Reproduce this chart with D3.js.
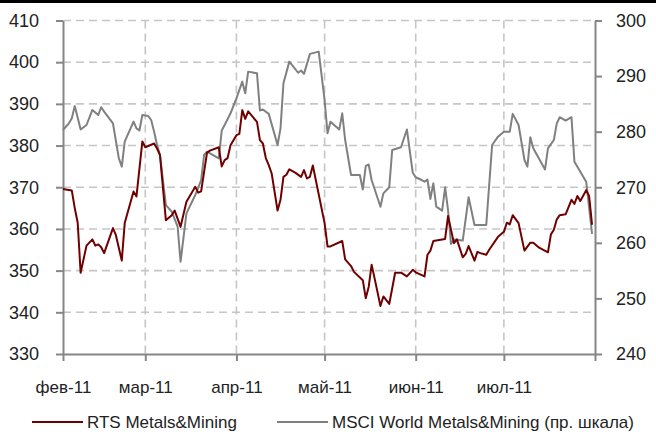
<!DOCTYPE html>
<html>
<head>
<meta charset="utf-8">
<script src="https://cdn.jsdelivr.net/npm/d3@7"></script>
<style>
  body { margin: 0; background: #fff; }
  svg text { font-family: "Liberation Sans", Arial, sans-serif; fill: #222; }
</style>
</head>
<body>
<div class="chart"></div>
<script>
// data
const rtsDates = ["2011-02-01","2011-02-04","2011-02-05","2011-02-06","2011-02-07","2011-02-09","2011-02-11","2011-02-12","2011-02-13","2011-02-14","2011-02-15","2011-02-18","2011-02-19","2011-02-21","2011-02-22","2011-02-25","2011-02-26","2011-02-28",
  "2011-03-01","2011-03-04","2011-03-05","2011-03-06","2011-03-08","2011-03-10","2011-03-11","2011-03-13","2011-03-15","2011-03-18","2011-03-19","2011-03-20","2011-03-22","2011-03-23","2011-03-26","2011-03-27","2011-03-28","2011-03-29","2011-03-30",
  "2011-04-01","2011-04-02","2011-04-03","2011-04-04","2011-04-05","2011-04-07","2011-04-08","2011-04-09","2011-04-10","2011-04-11","2011-04-12","2011-04-13","2011-04-15","2011-04-16","2011-04-17","2011-04-18","2011-04-19","2011-04-21","2011-04-23","2011-04-24","2011-04-25","2011-04-26","2011-04-27",
  "2011-05-01","2011-05-02","2011-05-03","2011-05-07","2011-05-08","2011-05-10","2011-05-11","2011-05-14","2011-05-15","2011-05-16","2011-05-17","2011-05-18","2011-05-20","2011-05-21","2011-05-23","2011-05-25","2011-05-27","2011-05-29","2011-05-31",
  "2011-06-01","2011-06-04","2011-06-05","2011-06-06","2011-06-07","2011-06-11","2011-06-12","2011-06-14","2011-06-15","2011-06-17","2011-06-18","2011-06-19","2011-06-21","2011-06-22","2011-06-23","2011-06-25","2011-06-26","2011-06-29",
  "2011-07-01","2011-07-02","2011-07-03","2011-07-04","2011-07-06","2011-07-08","2011-07-10","2011-07-11","2011-07-13","2011-07-16","2011-07-17","2011-07-18","2011-07-19","2011-07-20","2011-07-22","2011-07-24","2011-07-25","2011-07-26","2011-07-27","2011-07-29","2011-07-30","2011-07-31"];
const rtsValues = [369.6,369.2,365.0,361.5,349.5,356.0,357.5,356.0,356.3,355.6,354.2,360.2,358.5,352.4,361.4,369.0,367.8,381.0,
  379.6,380.5,379.3,377.7,362.1,363.3,364.4,360.5,366.5,370.1,368.7,369.0,378.3,378.8,379.6,375.0,376.5,377.0,380.1,
  382.5,382.8,388.5,386.4,388.2,386.5,385.7,381.3,380.5,377.0,375.3,373.3,364.4,367.0,372.5,373.0,374.3,373.5,372.5,374.1,372.1,372.5,375.2,
  361.4,355.8,355.8,357.1,352.7,351.1,349.7,347.7,343.4,346.1,351.4,348.2,341.5,343.8,342.0,349.5,349.5,348.6,350.2,
  349.6,348.6,353.8,354.8,357.1,357.6,363.1,356.6,357.5,353.2,354.0,355.9,352.4,354.5,354.2,353.8,355.0,358.1,
  359.3,361.5,361.1,363.3,361.4,354.8,356.7,356.7,355.5,354.4,358.7,359.8,362.3,363.3,363.5,367.0,366.0,367.9,366.7,369.3,367.9,361.0];

const msciDates = ["2011-02-01","2011-02-03","2011-02-04","2011-02-05","2011-02-07","2011-02-09","2011-02-11","2011-02-13","2011-02-14","2011-02-15","2011-02-18","2011-02-20","2011-02-21","2011-02-22","2011-02-25","2011-02-26","2011-02-27","2011-02-28",
  "2011-03-02","2011-03-03","2011-03-04","2011-03-05","2011-03-06","2011-03-08","2011-03-10","2011-03-12","2011-03-13","2011-03-15","2011-03-18","2011-03-20","2011-03-21","2011-03-22","2011-03-26","2011-03-27","2011-03-28","2011-03-30",
  "2011-04-01","2011-04-03","2011-04-04","2011-04-05","2011-04-08","2011-04-09","2011-04-10","2011-04-12","2011-04-15","2011-04-16","2011-04-17","2011-04-19","2011-04-22","2011-04-23","2011-04-24","2011-04-26","2011-04-29",
  "2011-05-01","2011-05-02","2011-05-03","2011-05-06","2011-05-07","2011-05-08","2011-05-10","2011-05-13","2011-05-14","2011-05-15","2011-05-16","2011-05-17","2011-05-20","2011-05-21","2011-05-23","2011-05-24","2011-05-27","2011-05-29","2011-05-31",
  "2011-06-01","2011-06-03","2011-06-04","2011-06-05","2011-06-06","2011-06-07","2011-06-08","2011-06-10","2011-06-11","2011-06-12","2011-06-13","2011-06-14","2011-06-17","2011-06-19","2011-06-21","2011-06-25","2011-06-27","2011-06-29",
  "2011-07-01","2011-07-03","2011-07-04","2011-07-06","2011-07-08","2011-07-09","2011-07-10","2011-07-11","2011-07-15","2011-07-16","2011-07-18","2011-07-19","2011-07-20","2011-07-22","2011-07-24","2011-07-25","2011-07-27","2011-07-29","2011-07-31"];
const msciValues = [280.3,281.5,282.4,284.6,280.4,281.2,283.9,283.0,284.4,283.6,281.5,275.2,273.7,278.2,281.8,280.6,280.2,283.0,
  282.8,282.1,280.0,277.6,275.8,266.8,265.6,262.9,256.6,265.3,268.6,271.3,275.8,276.4,275.2,280.2,281.2,283.3,
  286.0,289.0,286.9,290.8,290.5,283.8,284.0,283.2,277.6,280.6,288.7,292.6,290.6,291.0,290.4,294.0,294.4,
  285.7,279.7,281.8,280.4,283.3,278.5,272.2,272.2,269.6,273.8,274.1,271.3,266.5,268.9,270.0,276.7,277.2,280.4,272.6,
  271.8,271.3,271.0,271.4,267.9,270.7,266.5,265.8,270.0,265.9,259.8,260.6,260.4,268.2,263.2,263.2,277.6,279.1,
  280.0,280.0,283.2,281.2,274.9,273.7,279.0,277.0,273.2,277.0,278.5,281.5,282.6,282.0,282.6,274.6,272.8,271.0,261.6];

const monthTicks = ["2011-02-01","2011-03-01","2011-04-01","2011-05-01","2011-06-01","2011-07-01","2011-08-01"];
const monthLabels = ["фев-11","мар-11","апр-11","май-11","июн-11","июл-11",""];
const leftTicks = [330,340,350,360,370,380,390,400,410];
const rightTicks = [240,250,260,270,280,290,300];
const seriesNames = ["RTS Metals&Mining", "MSCI World Metals&Mining (пр. шкала)"];

const W = 656, H = 434;
const margin = { top: 20.5, right: 61, bottom: 80, left: 63 };
const parse = d3.timeParse("%Y-%m-%d");

const svg = d3.select(".chart").append("svg")
  .attr("width", W).attr("height", H);

// black rule across the top
svg.append("line")
  .attr("x1", 0).attr("x2", W).attr("y1", 1.5).attr("y2", 1.5)
  .attr("stroke", "#000").attr("stroke-width", 3);

const x = d3.scaleTime()
  .domain([parse(monthTicks[0]), parse(monthTicks[monthTicks.length - 1])])
  .range([margin.left, W - margin.right]);
const yL = d3.scaleLinear().domain([330, 410]).range([H - margin.bottom, margin.top]);
const yR = d3.scaleLinear().domain([240, 300]).range([H - margin.bottom, margin.top]);

// dashed grid
const grid = svg.append("g").attr("stroke", "#c6c6c6").attr("stroke-width", 1.6).attr("stroke-dasharray", "8,5");
grid.selectAll(".hg").data(leftTicks.slice(1)).join("line")
  .attr("x1", x.range()[0]).attr("x2", x.range()[1])
  .attr("y1", d => yL(d)).attr("y2", d => yL(d));
grid.selectAll(".vg").data(monthTicks.slice(1, -1)).join("line")
  .attr("x1", d => x(parse(d))).attr("x2", d => x(parse(d)))
  .attr("y1", yL.range()[1]).attr("y2", yL.range()[0]);

function styleAxis(g) {
  g.selectAll("path, line").attr("stroke", "#868686").attr("stroke-width", 2);
  g.selectAll("text").attr("font-size", 18).attr("fill", "#222");
}

svg.append("g")
  .attr("transform", `translate(${margin.left},0)`)
  .call(d3.axisLeft(yL).tickValues(leftTicks).tickSize(7).tickSizeOuter(0).tickPadding(17))
  .call(styleAxis);

svg.append("g")
  .attr("transform", `translate(${W - margin.right},0)`)
  .call(d3.axisRight(yR).tickValues(rightTicks).tickSize(7).tickSizeOuter(0).tickPadding(14))
  .call(styleAxis);

svg.append("g")
  .attr("transform", `translate(0,${H - margin.bottom})`)
  .call(d3.axisBottom(x).tickValues(monthTicks.map(parse)).tickSize(7).tickSizeOuter(0).tickPadding(20)
    .tickFormat((d, i) => monthLabels[i]))
  .call(styleAxis)
  .call(g => g.selectAll("text").attr("font-size", 17));

// lines
const rts = rtsDates.map((d, i) => ({ date: parse(d), value: rtsValues[i] }));
const msci = msciDates.map((d, i) => ({ date: parse(d), value: msciValues[i] }));

svg.append("path").datum(msci)
  .attr("fill", "none").attr("stroke", "#808080").attr("stroke-width", 2).attr("stroke-linejoin", "round")
  .attr("d", d3.line().x(d => x(d.date)).y(d => yR(d.value)));

svg.append("path").datum(rts)
  .attr("fill", "none").attr("stroke", "#700000").attr("stroke-width", 2).attr("stroke-linejoin", "round")
  .attr("d", d3.line().x(d => x(d.date)).y(d => yL(d.value)));

// legend
const legend = svg.append("g").attr("transform", "translate(0,422)");
const items = [
  { name: seriesNames[0], color: "#700000", x: 32 },
  { name: seriesNames[1], color: "#808080", x: 277 }
];
items.forEach(it => {
  legend.append("line").attr("x1", it.x).attr("x2", it.x + 51).attr("y1", 0).attr("y2", 0)
    .attr("stroke", it.color).attr("stroke-width", 2);
  legend.append("text").attr("x", it.x + 55).attr("y", 6).attr("font-size", 17).text(it.name);
});
</script>
</body>
</html>
